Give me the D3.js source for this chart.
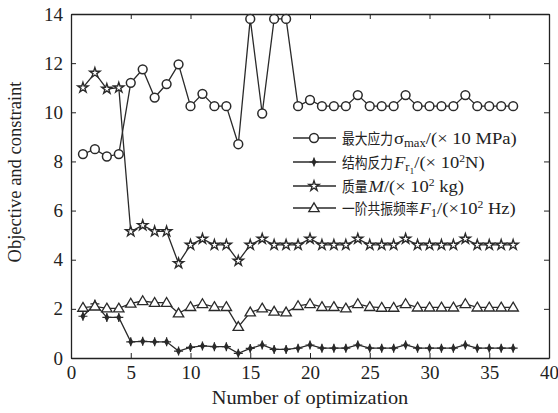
<!DOCTYPE html>
<html>
<head>
<meta charset="UTF-8">
<title>Objective and constraint</title>
<style>
  body { margin: 0; background: #fff; }
  svg { display: block; }
  text { font-family: "Liberation Serif", "Noto Sans CJK SC", serif; fill: #222; }
  .cjk { font-family: "Noto Sans CJK SC", sans-serif; }
  .series { fill: none; stroke: #2a2a2a; stroke-width: 1.3px; }
</style>
</head>
<body>
<script src="https://cdn.jsdelivr.net/npm/d3@7/dist/d3.min.js"></script>
<script>
const iterations = d3.range(1, 38);
const stress = [8.3, 8.5, 8.2, 8.3, 11.2, 11.75, 10.6, 11.15, 11.95, 10.25, 10.75, 10.25, 10.25, 8.7, 13.8, 9.95, 13.8, 13.8, 10.25, 10.5,
  10.25, 10.25, 10.25, 10.7, 10.25, 10.25, 10.25, 10.7, 10.25, 10.25, 10.25, 10.25, 10.7, 10.25, 10.25, 10.25, 10.25];
const force = [1.7, 2.2, 1.65, 1.65, 0.66, 0.68, 0.66, 0.66, 0.28, 0.43, 0.49, 0.46, 0.46, 0.19, 0.39, 0.53, 0.35, 0.35, 0.4, 0.53,
  0.4, 0.4, 0.4, 0.53, 0.4, 0.4, 0.4, 0.53, 0.4, 0.4, 0.4, 0.4, 0.53, 0.4, 0.4, 0.4, 0.4];
const mass = [11.0, 11.6, 10.95, 11.0, 5.15, 5.4, 5.15, 5.15, 3.85, 4.6, 4.85, 4.6, 4.6, 3.95, 4.6, 4.85, 4.6, 4.6, 4.6, 4.85,
  4.6, 4.6, 4.6, 4.85, 4.6, 4.6, 4.6, 4.85, 4.6, 4.6, 4.6, 4.6, 4.85, 4.6, 4.6, 4.6, 4.6];
const freq = [2.05, 2.1, 2.02, 2.02, 2.22, 2.32, 2.25, 2.25, 1.82, 2.08, 2.2, 2.08, 2.08, 1.27, 1.86, 2.02, 1.89, 1.86, 2.12, 2.2,
  2.08, 2.08, 2.02, 2.2, 2.08, 2.05, 2.05, 2.2, 2.06, 2.06, 2.06, 2.06, 2.2, 2.06, 2.06, 2.06, 2.06];
const legendNames = ["最大应力", "结构反力", "质量", "一阶共振频率"];
const xTicks = [0, 5, 10, 15, 20, 25, 30, 35, 40];
const yTicks = [0, 2, 4, 6, 8, 10, 12, 14];

const width = 558, height = 413;
const m = {left: 71, right: 549, top: 14, bottom: 358};

const svg = d3.select("body").append("svg").attr("width", width).attr("height", height);

const x = d3.scaleLinear().domain([0, 40]).range([m.left, m.right]);
const y = d3.scaleLinear().domain([0, 14]).range([m.bottom, m.top]);

// axes, MATLAB style: box with inward ticks
svg.append("g").attr("transform", `translate(0,${m.bottom})`)
  .call(d3.axisBottom(x).tickValues(xTicks).tickSizeInner(-5).tickSizeOuter(0).tickPadding(7))
  .call(g => g.selectAll("text").attr("font-size", 19).attr("dy", "0.72em"));
svg.append("g").attr("transform", `translate(0,${m.top})`)
  .call(d3.axisTop(x).tickValues(xTicks).tickSizeInner(-5).tickSizeOuter(0).tickFormat(""));
svg.append("g").attr("transform", `translate(${m.left},0)`)
  .call(d3.axisLeft(y).tickValues(yTicks).tickSizeInner(-5).tickSizeOuter(0).tickPadding(8))
  .call(g => g.selectAll("text").attr("font-size", 19));
svg.append("g").attr("transform", `translate(${m.right},0)`)
  .call(d3.axisRight(y).tickValues(yTicks).tickSizeInner(-5).tickSizeOuter(0).tickFormat(""));
svg.selectAll(".domain").attr("stroke", "#222").attr("stroke-width", 1.3);
svg.selectAll(".tick line").attr("stroke", "#222");
svg.selectAll(".tick text").attr("fill", "#222").style("font-family", "Liberation Serif");

svg.append("text").attr("transform", `translate(${(m.left + m.right) / 2},404) scale(1.1,1)`)
  .attr("text-anchor", "middle").attr("font-size", 18.5).text("Number of optimization");
svg.append("text").attr("transform", "translate(21,172) rotate(-90)")
  .attr("text-anchor", "middle").attr("font-size", 18.5).text("Objective and constraint");

const line = d3.line().x((d, i) => x(iterations[i])).y(d => y(d));

const markers = {
  circle: g => g.append("circle").attr("r", 4.4).attr("fill", "#fff").attr("stroke", "#2a2a2a").attr("stroke-width", 1.5),
  force: g => {
    g.append("path").attr("d", d3.symbol(d3.symbolDiamond, 22)()).attr("fill", "#2a2a2a");
    g.append("path").attr("d", "M-4.5,0H4.5M0,-4.5V4.5").attr("stroke", "#2a2a2a").attr("stroke-width", 1.2);
  },
  star: g => g.append("path").attr("d", d3.symbol(d3.symbolStar, 32)()).attr("fill", "#fff")
    .attr("stroke", "#2a2a2a").attr("stroke-width", 1.4),
  triangle: g => g.append("path").attr("d", "M0,-5.2L5.2,3.6L-5.2,3.6Z").attr("fill", "#fff")
    .attr("stroke", "#2a2a2a").attr("stroke-width", 1.3)
};

const series = [
  {values: stress, marker: "circle"},
  {values: force, marker: "force"},
  {values: mass, marker: "star"},
  {values: freq, marker: "triangle"}
];

series.forEach(s => {
  svg.append("path").attr("class", "series").attr("d", line(s.values));
  svg.append("g").selectAll("g").data(s.values).join("g")
    .attr("transform", (d, i) => `translate(${x(iterations[i])},${y(d)})`)
    .each(function() { markers[s.marker](d3.select(this)); });
});

// legend: condensed CJK name, then the (slightly widened) serif symbol/unit part
const legendRows = [138, 162, 186, 208];
const cjkScale = 0.85, latinScale = 1.06;
const lg = svg.append("g");
const latinParts = [];
series.forEach((s, i) => {
  const ry = legendRows[i];
  lg.append("line").attr("x1", 293).attr("x2", 336).attr("y1", ry).attr("y2", ry)
    .attr("stroke", "#2a2a2a").attr("stroke-width", 1.3);
  const mk = lg.append("g").attr("transform", `translate(314,${ry})`);
  markers[s.marker](mk);
  const name = lg.append("text").attr("class", "cjk").attr("font-size", 15)
    .attr("transform", `translate(342,${ry + 6}) scale(${cjkScale},1)`).text(legendNames[i]);
  const w = name.node().getComputedTextLength() * cjkScale;
  latinParts.push(lg.append("text").attr("font-size", 17.5)
    .attr("transform", `translate(${342 + w + 1},${ry + 6}) scale(${latinScale},1)`));
});

let t = latinParts[0];
t.append("tspan").text("σ");
t.append("tspan").attr("font-size", 12).attr("dy", 3).text("max");
t.append("tspan").attr("dy", -3).text("/(× 10 MPa)");

t = latinParts[1];
t.append("tspan").attr("font-style", "italic").text("F");
t.append("tspan").attr("font-size", 12).attr("dy", 3).text("r");
t.append("tspan").attr("font-size", 9).attr("dy", 3).text("1");
t.append("tspan").attr("dy", -6).text("/(× 10");
t.append("tspan").attr("font-size", 11).attr("dy", -6).text("2");
t.append("tspan").attr("dy", 6).text("N)");

t = latinParts[2];
t.append("tspan").attr("font-style", "italic").text("M");
t.append("tspan").text("/(× 10");
t.append("tspan").attr("font-size", 11).attr("dy", -6).text("2");
t.append("tspan").attr("dy", 6).text(" kg)");

t = latinParts[3];
t.append("tspan").attr("font-style", "italic").text("F");
t.append("tspan").attr("font-size", 12).attr("dy", 3).text("1");
t.append("tspan").attr("dy", -3).text("/(×10");
t.append("tspan").attr("font-size", 11).attr("dy", -6).text("2");
t.append("tspan").attr("dy", 6).text(" Hz)");
</script>
</body>
</html>
